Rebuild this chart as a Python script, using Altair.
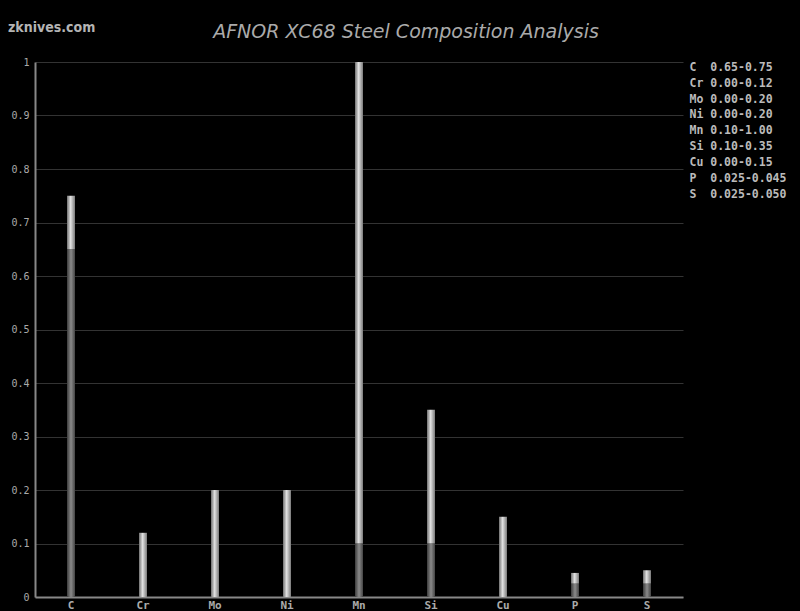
import altair as alt
import pandas as pd

elements = ["C", "Cr", "Mo", "Ni", "Mn", "Si", "Cu", "P", "S"]
mins = [0.65, 0.00, 0.00, 0.00, 0.10, 0.10, 0.00, 0.025, 0.025]
maxs = [0.75, 0.12, 0.20, 0.20, 1.00, 0.35, 0.15, 0.045, 0.050]
range_text = ["0.65-0.75", "0.00-0.12", "0.00-0.20", "0.00-0.20", "0.10-1.00",
              "0.10-0.35", "0.00-0.15", "0.025-0.045", "0.025-0.050"]
title_text = "AFNOR XC68 Steel Composition Analysis"
site_text = "zknives.com"

labels = [(e.ljust(2) + " " + r).replace(" ", "\u00a0") for e, r in zip(elements, range_text)]

df = pd.DataFrame({"element": elements, "lo": mins, "hi": maxs, "label": labels})
df["zero"] = 0.0

dark_grad = {"gradient": "linear", "x1": 0, "x2": 1, "y1": 0, "y2": 0,
             "stops": [{"offset": 0, "color": "#3c3c3c"},
                       {"offset": 0.5, "color": "#8a8a8a"},
                       {"offset": 1, "color": "#444444"}]}
light_grad = {"gradient": "linear", "x1": 0, "x2": 1, "y1": 0, "y2": 0,
              "stops": [{"offset": 0, "color": "#707070"},
                        {"offset": 0.45, "color": "#e2e2e2"},
                        {"offset": 1, "color": "#7a7a7a"}]}

x = alt.X("element:N", sort=elements, title=None,
          scale=alt.Scale(paddingInner=0, paddingOuter=0),
          axis=alt.Axis(labelAngle=0, labelFont="DejaVu Sans Mono", labelFontSize=11,
                        labelFontWeight="bold", labelColor="#aaaaaa", ticks=False,
                        domainColor="#888888", domainWidth=2, labelPadding=2, grid=False))
yscale = alt.Scale(domain=[0, 1], nice=False)
yaxis = alt.Axis(values=[0, 0.1, 0.2, 0.3, 0.4, 0.5, 0.6, 0.7, 0.8, 0.9, 1],
                 labelFont="DejaVu Sans Mono", labelFontSize=10, labelColor="#aaaaaa",
                 ticks=False, domainColor="#888888", domainWidth=2, gridColor="#333333",
                 gridWidth=1, labelPadding=6, title=None,
                 labelExpr="datum.value == 0 ? '0' : datum.value == 1 ? '1' : format(datum.value, '.1f')")

base = alt.Chart(df)

low_bars = base.mark_bar(size=8, color=dark_grad).encode(
    x=x, y=alt.Y("zero:Q", scale=yscale, axis=yaxis), y2="lo:Q")
high_bars = base.mark_bar(size=8, color=light_grad).encode(
    x=x, y=alt.Y("lo:Q", scale=yscale, axis=yaxis), y2="hi:Q")

legend_layer = base.mark_point(opacity=0).encode(
    x=x, y=alt.Y("hi:Q", scale=yscale, axis=yaxis),
    color=alt.Color("label:N", scale=alt.Scale(domain=labels, range=["#000000"] * len(labels)),
                    legend=alt.Legend(title=None, orient="none", legendX=643, legendY=0,
                                      padding=0, symbolSize=0, symbolOpacity=0,
                                      symbolStrokeWidth=0, symbolOffset=0,
                                      labelFont="DejaVu Sans Mono", labelFontSize=11.5,
                                      labelFontWeight="bold",
                                      labelColor="#bbbbbb", rowPadding=2.9, labelOffset=0,
                                      labelLimit=200)))

texts = pd.DataFrame({"t": [site_text, title_text]})
watermark = alt.Chart(texts.iloc[[0]]).mark_text(
    font="DejaVu Sans Condensed", fontSize=14, fontWeight="bold", color="#b4b4b4",
    align="left", baseline="middle").encode(text="t:N", x=alt.value(-27), y=alt.value(-34))
title_mark = alt.Chart(texts.iloc[[1]]).mark_text(
    font="DejaVu Sans", fontSize=19, fontStyle="italic", color="#aaaaaa", align="center",
    baseline="middle").encode(text="t:N", x=alt.value(371), y=alt.value(-30))

chart = alt.layer(low_bars, high_bars, legend_layer, watermark, title_mark).properties(
    width=648, height=535, background="#000000",
    autosize=alt.AutoSizeParams(type="none"),
    padding={"left": 27, "top": 54, "right": 109, "bottom": 16},
).configure_view(stroke=None)

try:
    import jinja2
    tmpl = jinja2.Template("""<!DOCTYPE html>
<html>
<head>
  <style>
    html, body { background: #000000; }
    #{{ output_div }}.vega-embed { width: 100%; display: flex; }
  </style>
  <script type="text/javascript" src="{{ base_url }}/vega@{{ vega_version }}"></script>
  <script type="text/javascript" src="{{ base_url }}/vega-lite@{{ vegalite_version }}"></script>
  <script type="text/javascript" src="{{ base_url }}/vega-embed@{{ vegaembed_version }}"></script>
</head>
<body>
  <div id="{{ output_div }}"></div>
  <script>
    var spec = {{ spec }};
    var embedOpt = {{ embed_options }};
    vegaEmbed("#{{ output_div }}", spec, embedOpt).catch(function(e){ document.getElementById("{{ output_div }}").innerText = String(e); });
  </script>
</body>
</html>""")
    save_kwargs = {"template": tmpl}
except Exception:
    save_kwargs = {}

chart.save("out.html", embed_options={"renderer": "svg", "actions": False}, **save_kwargs)
